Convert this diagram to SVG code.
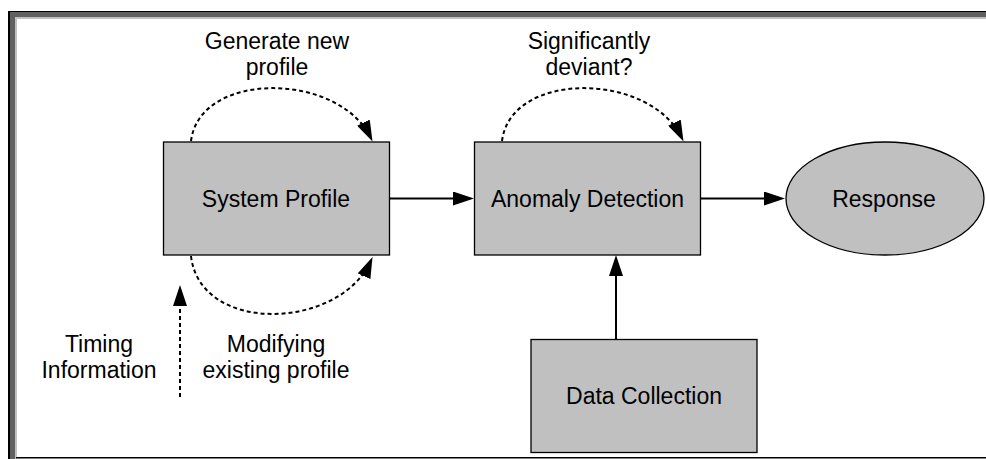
<svg xmlns="http://www.w3.org/2000/svg" width="986" height="459" viewBox="0 0 986 459">
<style>
.box{fill:#c0c0c0;stroke:#000;stroke-width:1.3}
.lbl{font-family:"Liberation Sans",Arial,sans-serif;font-size:23px;fill:#000;text-anchor:middle}
.solid{fill:none;stroke:#000;stroke-width:2}
.dot{fill:none;stroke:#000;stroke-width:2;stroke-dasharray:4 3}
</style>
<defs>
<marker id="ah" viewBox="0 0 21 14" refX="17" refY="7" markerWidth="21" markerHeight="14" markerUnits="userSpaceOnUse" orient="auto">
<path d="M0,0 L21,7 L0,14 Z" fill="#000"/>
</marker>
</defs>
<g id="frame">
<rect x="0" y="0" width="986" height="459" fill="#fff"/>
<rect x="8" y="11" width="978" height="448" fill="#606060"/>
<rect x="15" y="17" width="971" height="442" fill="#c0c0c0"/>
<rect x="17" y="19" width="969" height="440" fill="#fff"/>
<rect x="8" y="11" width="2" height="448" fill="#000"/>
<rect x="8" y="11" width="978" height="1" fill="#000"/>
<rect x="16" y="457" width="970" height="1.5" fill="#000"/>
</g>
<g id="connectors">
<line class="solid" x1="390" y1="198.5" x2="470" y2="198.5" marker-end="url(#ah)"/>
<line class="solid" x1="701" y1="198.5" x2="781" y2="198.5" marker-end="url(#ah)"/>
<line class="solid" x1="616" y1="339" x2="616" y2="259" marker-end="url(#ah)"/>
<line class="dot" x1="180" y1="397" x2="180" y2="289" marker-end="url(#ah)"/>
<path class="dot" d="M191,141 C200,70 339,72 370.8,137.9" marker-end="url(#ah)"/>
<path class="dot" d="M191,256 C200,335 340,330 370.9,260.7" marker-end="url(#ah)"/>
<path class="dot" d="M502,141 C511,70 650,72 681.8,137.9" marker-end="url(#ah)"/>
</g>
<g id="system-profile">
<rect class="box" x="163.5" y="142" width="226" height="113"/>
<text class="lbl" x="276" y="206.5">System Profile</text>
</g>
<g id="anomaly-detection">
<rect class="box" x="474.5" y="142" width="226" height="113"/>
<text class="lbl" x="587.5" y="206.5">Anomaly Detection</text>
</g>
<g id="response">
<ellipse class="box" cx="885" cy="198.5" rx="99" ry="56.5"/>
<text class="lbl" x="884" y="206.5">Response</text>
</g>
<g id="data-collection">
<rect class="box" x="531" y="339.5" width="226" height="113"/>
<text class="lbl" x="644" y="403.5">Data Collection</text>
</g>
<g id="label-generate">
<text class="lbl" x="277" y="49">Generate new</text>
<text class="lbl" x="277" y="75">profile</text>
</g>
<g id="label-deviant">
<text class="lbl" x="589" y="49">Significantly</text>
<text class="lbl" x="589" y="75">deviant?</text>
</g>
<g id="label-timing">
<text class="lbl" x="99" y="352">Timing</text>
<text class="lbl" x="99" y="378">Information</text>
</g>
<g id="label-modifying">
<text class="lbl" x="276" y="352">Modifying</text>
<text class="lbl" x="276" y="378">existing profile</text>
</g>
</svg>
